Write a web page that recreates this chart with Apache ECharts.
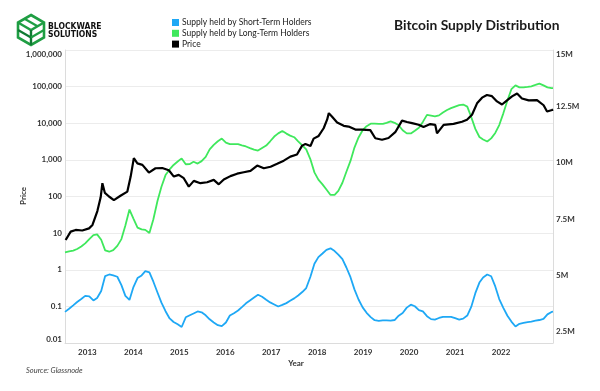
<!DOCTYPE html>
<html><head><meta charset="utf-8">
<script src="https://cdn.jsdelivr.net/npm/echarts@6/dist/echarts.min.js"></script>
<style>html,body{margin:0;padding:0;background:#fff}#c{width:600px;height:391px}</style>
</head><body><div id="c"></div>
<script>
// ---- data ----
const yearLabels = [2013, 2014, 2015, 2016, 2017, 2018, 2019, 2020, 2021, 2022];
const priceTicks = [0.01, 0.1, 1, 10, 100, 1000, 10000, 100000, 1000000];
const supplyTicks = [2.5, 5, 7.5, 10, 12.5, 15];
const seriesNames = ['Supply held by Short-Term Holders', 'Supply held by Long-Term Holders', 'Price'];

const priceDates = ['2012-07-06','2012-08-13','2012-09-20','2012-11-09','2012-12-30','2013-01-25','2013-03-03','2013-03-28','2013-04-10','2013-04-29','2013-05-30','2013-07-06','2013-08-25','2013-10-16','2013-11-10','2013-12-04','2013-12-31','2014-02-07','2014-03-28','2014-05-17','2014-07-07','2014-08-26','2014-10-03','2014-11-09','2014-12-17','2015-01-24','2015-03-03','2015-04-22','2015-06-12','2015-08-01','2015-09-08','2015-10-16','2015-12-05','2016-01-25','2016-03-15','2016-05-05','2016-06-25','2016-08-14','2016-10-04','2016-11-23','2017-01-12','2017-03-03','2017-04-22','2017-05-31','2017-06-25','2017-08-02','2017-08-26','2017-10-03','2017-11-10','2017-12-06','2017-12-19','2018-01-13','2018-02-20','2018-04-11','2018-05-18','2018-07-08','2018-08-27','2018-10-29','2018-12-06','2019-01-26','2019-03-16','2019-05-06','2019-06-26','2019-08-03','2019-09-10','2019-10-30','2019-12-06','2020-01-26','2020-03-04','2020-03-17','2020-05-06','2020-07-20','2020-09-22','2020-10-30','2020-12-07','2021-01-14','2021-02-21','2021-03-30','2021-05-07','2021-06-14','2021-07-22','2021-08-29','2021-10-06','2021-11-13','2021-12-20','2022-02-09','2022-04-13','2022-06-02','2022-06-28','2022-08-05','2022-08-12'];
const priceValues = [6.5,11.0,12.2,11.8,13.5,16.7,40,95,231,125,100,80,105,136,350,1112,800,730,450,590,600,520,350,390,316,186,267,231,245,284,215,290,360,420,460,500,700,590,650,780,950,1230,1400,2450,2700,2400,3800,4500,7300,12500,18900,15000,10500,8500,8100,6700,6700,6500,3900,3550,3950,5700,11800,10800,10100,9100,7900,9500,9000,5300,9000,9600,11000,12500,17000,35000,50000,59000,55000,39500,32500,42000,54000,65000,47500,42000,43000,31000,21000,23000,24000];

// monthly supply readings (millions of BTC), July 2012 .. August 2022, plus a final reading
const supplyStart = [2012, 7];
const supplyEnd = [2022, 8];
const supplyLastDate = '2022-08-12';
const sthSupply = [
  3.38,3.52,3.67,3.82,3.95,4.09,
  4.07,3.89,4.00,4.31,4.97,5.04,5.00,4.94,4.57,4.09,3.91,4.48,
  4.88,5.00,5.19,5.13,4.72,4.24,3.79,3.41,3.09,2.93,2.83,2.71,
  3.14,3.23,3.31,3.40,3.36,3.23,3.05,2.91,2.79,2.75,2.91,3.22,
  3.32,3.44,3.59,3.76,3.89,4.02,4.14,4.05,3.92,3.80,3.71,3.62,
  3.69,3.77,3.87,3.98,4.11,4.26,4.44,4.93,5.52,5.81,5.97,6.13,
  6.20,6.08,5.92,5.72,5.35,4.92,4.38,3.93,3.58,3.34,3.15,3.01,
  2.98,3.00,3.00,2.99,3.02,3.21,3.33,3.57,3.70,3.63,3.46,3.40,
  3.19,3.06,3.04,3.11,3.16,3.16,3.16,3.10,3.04,3.08,3.22,3.60,
  4.21,4.68,4.91,5.04,4.96,4.51,3.95,3.56,3.21,2.95,2.73,2.85,
  2.89,2.93,2.95,2.99,3.02,3.07,3.27,3.38,
  3.39];
const lthSupply = [
  6.02,6.06,6.10,6.17,6.28,6.42,
  6.61,6.79,6.82,6.58,6.11,6.05,6.12,6.31,6.61,7.21,7.92,7.52,
  7.12,7.04,7.02,6.88,7.49,8.30,8.93,9.45,9.70,9.90,10.05,10.19,
  9.93,9.94,10.04,9.96,10.07,10.26,10.59,10.79,10.95,11.07,10.89,10.82,
  10.82,10.82,10.77,10.72,10.65,10.58,10.54,10.65,10.76,10.95,11.16,11.30,
  11.41,11.29,11.20,11.13,10.95,10.77,10.59,10.16,9.57,9.25,9.04,8.81,
  8.57,8.57,8.75,9.11,9.60,10.08,10.67,11.12,11.44,11.62,11.73,11.73,
  11.72,11.72,11.77,11.83,11.77,11.66,11.44,11.30,11.30,11.42,11.55,11.81,
  12.12,12.09,12.06,12.10,12.23,12.34,12.42,12.49,12.55,12.58,12.49,12.03,
  11.50,11.14,11.03,10.94,11.08,11.32,11.67,12.19,12.76,13.26,13.43,13.34,
  13.34,13.36,13.39,13.45,13.51,13.43,13.34,13.31,
  13.31];

// ---- build ----
const supplyDates = [];
for (let y = supplyStart[0], m = supplyStart[1]; y < supplyEnd[0] || (y === supplyEnd[0] && m <= supplyEnd[1]); ) {
  supplyDates.push(y + '-' + String(m).padStart(2, '0') + '-01');
  m++; if (m > 12) { m = 1; y++; }
}
supplyDates.push(supplyLastDate);

const FONT = 'Lato, "Open Sans", sans-serif';
const COLORS = ['#1EA8F5', '#3FE85C', '#000000'];
const chart = echarts.init(document.getElementById('c'), null, { renderer: 'canvas' });

function fmtPrice(v) {
  const n = Number(Number(v).toPrecision(3));
  return n >= 1 ? n.toLocaleString('en-US') : String(n);
}
function isSupplyTick(v) {
  return supplyTicks.some(t => Math.abs(t - v) < 1e-6);
}

const green = '#1f9e43', dgreen = '#107a32';
chart.setOption({
  animation: false,
  color: COLORS,
  textStyle: { fontFamily: FONT },
  grid: { left: 65, right: 47, top: 50, bottom: 48, containLabel: false },
  legend: {
    orient: 'vertical', left: 172, top: 18, padding: 0, itemWidth: 7, itemHeight: 7, itemGap: 1.8,
    icon: 'rect', data: seriesNames,
    textStyle: { fontFamily: FONT, fontSize: 8.5, lineHeight: 8, color: '#222', padding: [0, 0, 0, -2] }
  },
  xAxis: [
    { type: 'time', min: '2012-07-01', max: '2022-08-12', show: false, position: 'bottom' },
    { type: 'value', min: 2012.513, max: 2023.131, position: 'bottom',
      axisLine: { show: true, lineStyle: { color: '#dcdcdc', width: 1 } },
      axisTick: { show: false }, splitLine: { show: false },
      axisLabel: { customValues: yearLabels, formatter: v => String(Math.round(v)), margin: 5,
        fontFamily: FONT, fontSize: 8, fontWeight: 'bold', color: '#333' } }
  ],
  yAxis: [
    { type: 'log', logBase: 10, min: priceTicks[0], max: priceTicks[priceTicks.length - 1], splitNumber: 8,
      axisLine: { show: true, lineStyle: { color: '#dcdcdc' } }, axisTick: { show: false },
      splitLine: { show: true, lineStyle: { color: '#ececec', width: 1 } },
      axisLabel: { formatter: fmtPrice, margin: 3, fontFamily: FONT, fontSize: 8, fontWeight: 'bold', color: '#333',
        verticalAlignMaxLabel: 'top', verticalAlignMinLabel: 'bottom' } },
    { type: 'value', position: 'right', min: 2, max: 15, interval: 0.5,
      axisLine: { show: true, lineStyle: { color: '#dcdcdc' } }, axisTick: { show: false },
      splitLine: { show: false },
      axisLabel: { formatter: v => isSupplyTick(v) ? (Number(v.toFixed(1)) + 'M') : '', margin: 3,
        fontFamily: FONT, fontSize: 8, fontWeight: 'bold', color: '#333',
        verticalAlignMaxLabel: 'top' } }
  ],
  series: [
    { name: seriesNames[0], type: 'line', xAxisIndex: 0, yAxisIndex: 1, showSymbol: false,
      lineStyle: { width: 1.8, color: COLORS[0] }, itemStyle: { color: COLORS[0] },
      data: supplyDates.map((d, i) => [d, sthSupply[i]]) },
    { name: seriesNames[1], type: 'line', xAxisIndex: 0, yAxisIndex: 1, showSymbol: false,
      lineStyle: { width: 1.8, color: COLORS[1] }, itemStyle: { color: COLORS[1] },
      data: supplyDates.map((d, i) => [d, lthSupply[i]]) },
    { name: seriesNames[2], type: 'line', xAxisIndex: 0, yAxisIndex: 0, showSymbol: false,
      lineStyle: { width: 2.2, color: COLORS[2] }, itemStyle: { color: COLORS[2] },
      data: priceDates.map((d, i) => [d, priceValues[i]]) }
  ],
  graphic: [
    { type: 'text', left: 394, top: 19, style: { text: 'Bitcoin Supply Distribution', fontFamily: FONT, fontSize: 13.8, fontWeight: 'bold', fill: '#1a1a1a' } },
    { type: 'text', x: 296, y: 363, style: { text: 'Year', fontFamily: FONT, fontSize: 8, fontWeight: 'bold', fill: '#333', align: 'center', verticalAlign: 'middle' } },
    { type: 'text', x: 23, y: 196, rotation: Math.PI / 2, style: { text: 'Price', fontFamily: FONT, fontSize: 8, fontWeight: 'bold', fill: '#333', align: 'center', verticalAlign: 'middle' } },
    { type: 'text', x: 26, y: 371, style: { text: 'Source: Glassnode', fontFamily: FONT, fontSize: 7.5, fontStyle: 'italic', fill: '#444', verticalAlign: 'middle' } },
    // logo
    { type: 'polygon', shape: { points: [[31,15],[44,22.5],[44,37.5],[31,45],[18,37.5],[18,22.5]] }, style: { fill: 'none', stroke: green, lineWidth: 2.6, lineJoin: 'miter' } },
    { type: 'polyline', shape: { points: [[18,22.5],[31,30],[44,22.5]] }, style: { fill: 'none', stroke: green, lineWidth: 2.4 } },
    { type: 'polyline', shape: { points: [[31,30],[31,45]] }, style: { stroke: dgreen, lineWidth: 2.4 } },
    { type: 'polyline', shape: { points: [[24.5,18.8],[37.5,26.2]] }, style: { stroke: green, lineWidth: 2.2 } },
    { type: 'polyline', shape: { points: [[18,30],[31,37.5]] }, style: { stroke: dgreen, lineWidth: 2.2 } },
    { type: 'polyline', shape: { points: [[44,30],[31,37.5]] }, style: { stroke: green, lineWidth: 2.2 } },
    { type: 'text', x: 48, y: 26.5, style: { text: 'BLOCKWARE', fontFamily: '"Liberation Sans Narrow", "DejaVu Sans Condensed", sans-serif', fontSize: 8.5, fontWeight: 'bold', fill: '#111', verticalAlign: 'middle' } },
    { type: 'text', x: 48, y: 35, style: { text: 'SOLUTIONS', fontFamily: '"Liberation Sans Narrow", "DejaVu Sans Condensed", sans-serif', fontSize: 8.5, fontWeight: 'bold', fill: '#111', verticalAlign: 'middle' } }
  ]
});
</script></body></html>
